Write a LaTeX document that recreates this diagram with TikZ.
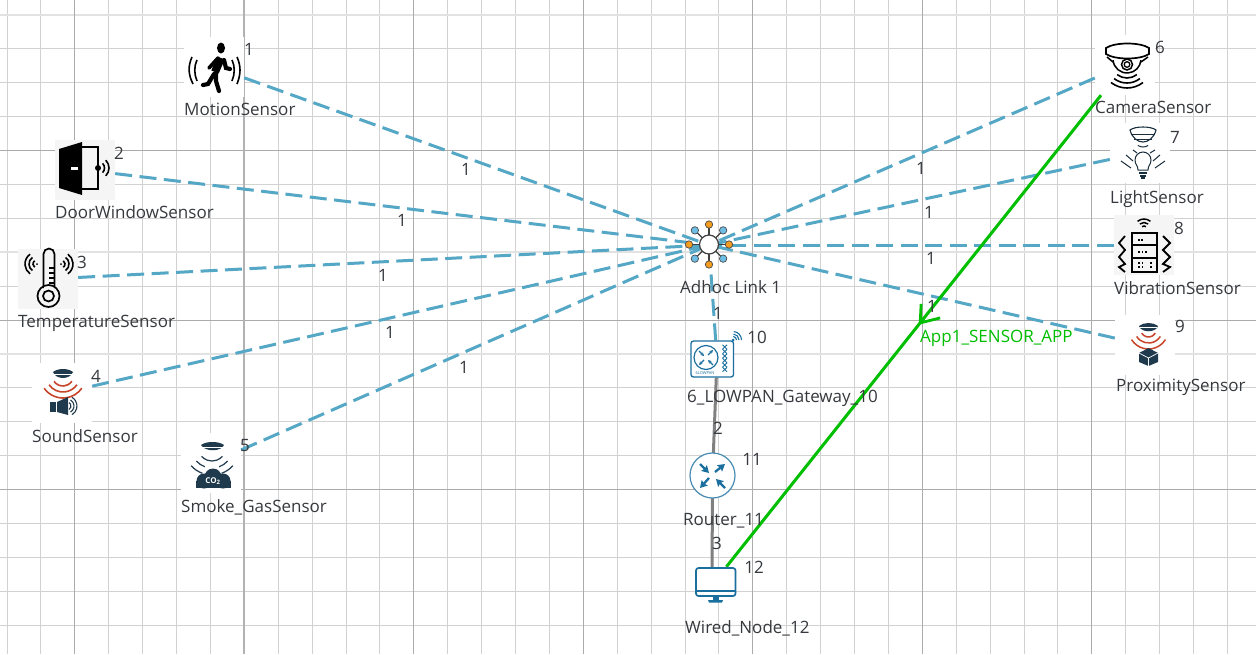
\documentclass[tikz,border=0pt]{standalone}
\usepackage{fontspec}
\setmainfont{Open Sans}
\usetikzlibrary{arrows.meta,calc}
\definecolor{linkblue}{HTML}{55A7C6}
\definecolor{gridminor}{HTML}{D2D2D2}
\definecolor{gridmajor}{HTML}{ABABAB}
\definecolor{gridthick}{HTML}{E2E2E2}
\definecolor{txt}{HTML}{36393D}
\definecolor{navy}{HTML}{1E3A4C}
\definecolor{redw}{HTML}{C8452A}
\definecolor{ciscob}{HTML}{1A6F9F}
\definecolor{appgreen}{HTML}{00BE00}
\definecolor{hubor}{HTML}{F39C1F}
\definecolor{hubbl}{HTML}{6DBDE5}
\newcommand{\icarc}[5]{([shift={(#4:#3pt)}]#1,#2) arc[start angle=#4,end angle=#5,radius=#3pt]}
\tikzset{
  iconbox/.style={rectangle,draw=none,fill=white,minimum width=60pt,minimum height=60pt,inner sep=0pt},
  checkbox/.style={iconbox,fill=black!4},
  wireless/.style={draw=linkblue,line width=3pt,dash pattern=on 17pt off 7.5pt},
  wiredlink/.style={draw=black!50,line width=3pt},
  namelab/.style={anchor=west,inner sep=0pt,text=txt,font=\fontsize{17}{19}\selectfont},
  numlab/.style={anchor=center,inner sep=0pt,text=txt,font=\fontsize{17}{19}\selectfont},
  applab/.style={anchor=west,inner sep=0pt,text=appgreen,font=\fontsize{17}{19}\selectfont},
}
\begin{document}
\begin{tikzpicture}[x=1pt,y=-1pt]
\useasboundingbox (0,0) rectangle (1256,654);
\fill[white] (0,0) rectangle (1256,654);
% grid
\foreach \k in {0,...,36}{\draw[gridminor,line width=0.9pt] ({7+33.9*\k},0) -- ({7+33.9*\k},654);}
\foreach \k in {0,...,18}{\draw[gridminor,line width=0.9pt] (0,{15+33.9*\k}) -- (1256,{15+33.9*\k});}
\foreach \k in {0,7,10}{\draw[gridthick,line width=1.8pt] (0,{15+33.9*\k}) -- (1256,{15+33.9*\k});}
\foreach \k in {4,9,14}{\draw[gridmajor,line width=0.9pt] (0,{15+33.9*\k}) -- (1256,{15+33.9*\k});}
\foreach \k in {2,12,17,22,27,32}{\draw[gridmajor,line width=0.9pt] ({7+33.9*\k},0) -- ({7+33.9*\k},654);}
\draw[black!30,line width=1.6pt] (244,0) -- (244,654);
% nodes
\node[iconbox] (motion) at (214,67) {};
\node[checkbox] (door) at (85,170) {};
\node[checkbox] (temp) at (48,279) {};
\node[iconbox] (sound) at (62,393) {};
\node[iconbox] (smoke) at (211,463) {};
\node[iconbox] (camera) at (1125,65) {};
\node[iconbox] (light) at (1140,153) {};
\node[checkbox] (vib) at (1144,245) {};
\node[iconbox] (prox) at (1145,345) {};
\node[circle,draw=none,inner sep=0pt,minimum size=18pt] (adhoc) at (709,245) {};
\node[rectangle,draw=none,inner sep=0pt,minimum width=46pt,minimum height=37pt] (gw) at (717,359) {};
\node[circle,draw=none,inner sep=0pt,minimum size=45pt] (router) at (712.5,475.5) {};
\node[rectangle,draw=none,inner sep=0pt,minimum width=41pt,minimum height=36pt] (wired) at (712,585) {};
% links
\foreach \n in {motion,door,temp,sound,smoke,camera,light,vib,prox}{\draw[wireless] (\n) -- (adhoc);}
\draw[wireless,shorten >=15pt] (gw) -- (adhoc);
\draw[wiredlink] (gw) -- (router);
\draw[wiredlink] (router) -- (wired);
% application flow
\draw[appgreen,line width=3pt] (wired) -- (camera);
\coordinate (tip) at ($(wired.center)!0.504!(camera.center)$);
\draw[appgreen,line width=2.8pt,line join=miter] ($(tip)+(1,-19)$) -- (tip) -- ($(tip)+(20,-5)$);
% motion icon
\fill[black] (221,48) ellipse[x radius=4pt,y radius=5.5pt];
\draw[black,line width=8pt] (221,58) -- (215,72);
\draw[black,line width=3.6pt,line cap=round] (218,58) -- (209,68);
\draw[black,line width=4.2pt,line cap=round] (224,60) -- (226,68) -- (230,69);
\draw[black,line width=4.2pt,line cap=round] (214,74) -- (208,84) -- (203,85);
\draw[black,line width=4.2pt,line cap=round] (216,74) -- (216,81) -- (219,91);
\draw[black,line width=1.6pt] (192,57) .. controls (188,66) and (188,74) .. (193,84);
\draw[black,line width=1.6pt] (197,60) .. controls (194,66) and (194,74) .. (197,81);
\draw[black,line width=1.6pt] (237,57) .. controls (241,66) and (241,74) .. (237,84);
\draw[black,line width=1.6pt] (232,60) .. controls (235,66) and (235,74) .. (232,81);
% door icon
\draw[black,line width=1.6pt] (82,147) -- (98,147) -- (98,189) -- (82,189);
\fill[black] (59,149) -- (82,142) -- (82,195) -- (59,188) -- cycle;
\fill[white] (71,167) rectangle (78,170);
\fill[black] (98,168) circle[radius=3pt];
\draw[black,line width=1.6pt] \icarc{98}{168}{6.5}{-45}{45};
\draw[black,line width=1.6pt] \icarc{98}{168}{11}{-45}{45};
% temperature icon
\draw[black,line width=1.7pt] (43.5,288) -- (43.5,254) arc[start angle=180,end angle=0,radius=5.5pt] -- (54.5,288);
\fill[black!4] (44.4,286) rectangle (53.6,292);
\draw[black,line width=1.7pt] (48.5,296) circle[radius=11pt];
\draw[black,line width=1.7pt] (48.5,296) circle[radius=5.5pt];
\draw[black,line width=1.2pt] (49,268) -- (54,268) (49,273) -- (54,273) (49,278) -- (54,278) (49,283) -- (54,283);
\fill[black] (37,264) circle[radius=1pt];
\fill[black] (61,264) circle[radius=1pt];
\foreach \r in {4,8,12}{
  \draw[black,line width=1.6pt] \icarc{37}{264}{\r}{125}{235};
  \draw[black,line width=1.6pt] \icarc{61}{264}{\r}{-55}{55};
}
% sound icon
\fill[navy] (53,372) .. controls (58,368) and (68,368) .. (73,372) .. controls (70,380) and (56,380) .. (53,372) -- cycle;
\draw[white,line width=0.6pt] (54,374) -- (72,374);
\foreach \r in {11,17,23}{\draw[redw,line width=1.6pt] \icarc{63}{375}{\r}{215}{325};}
\fill[navy] (50,402) rectangle (56,412);
\fill[navy] (57,402) -- (68,397) -- (68,415) -- (57,412) -- cycle;
\foreach \r in {4,7,10}{\draw[navy,line width=1.1pt] \icarc{67}{406}{\r}{-60}{60};}
% smoke icon
\fill[navy] (201,445) .. controls (206,441) and (219,441) .. (224,445) .. controls (221,452) and (205,452) .. (201,445) -- cycle;
\draw[white,line width=0.6pt] (202,447) -- (223,447);
\foreach \r in {14,21,28}{
  \draw[navy,line width=1.2pt] \icarc{212}{447}{\r}{222}{250};
  \draw[navy,line width=1.2pt] \icarc{212}{447}{\r}{290}{318};
}
\draw[navy,line width=1.2pt] \icarc{212}{447}{14}{250}{290};
\fill[navy] (204,481) circle[radius=7.5pt];
\fill[navy] (213,477) circle[radius=8.5pt];
\fill[navy] (223,481) circle[radius=7.5pt];
\fill[navy] (196,488) rectangle (231,481);
\node[inner sep=0pt,text=white,font=\bfseries\fontsize{8}{9}\selectfont] (co2) at (213,481) {CO\textsubscript{2}};
% camera icon
\draw[black,line width=1.7pt] (1106,48) .. controls (1115,42) and (1140,42) .. (1149,48) -- (1149,54) .. controls (1140,60) and (1115,60) .. (1106,54) -- cycle;
\draw[black,line width=1.5pt] (1107,57) -- (1113,62);
\draw[black,line width=1.5pt] (1148,57) -- (1141,62);
\draw[black,line width=1.5pt] \icarc{1127}{59}{14}{185}{355};
\draw[black,line width=1.5pt] (1127,64.5) circle[radius=5.5pt];
\draw[black,line width=1.3pt] (1127,64.5) circle[radius=2.8pt];
\foreach \r in {16,21,26}{\draw[black,line width=1.6pt] \icarc{1127}{62}{\r}{232}{308};}
% light icon
\draw[navy!80!black,line width=1.1pt] (1130,130) .. controls (1135,126) and (1151,126) .. (1156,130) .. controls (1154,138) and (1148,142) .. (1143,142) .. controls (1138,142) and (1132,138) .. (1130,130) -- cycle;
\draw[navy!80!black,line width=1pt] (1131,134) -- (1155,134) (1134,139) -- (1152,139);
\draw[navy!80!black,line width=1pt] \icarc{1143}{138}{9}{235}{305};
\draw[navy!80!black,line width=1pt] (1138,170) .. controls (1138,165) and (1135,165) .. (1135,160) arc[start angle=180,end angle=0,radius=8pt] .. controls (1151,165) and (1148,165) .. (1148,170) -- cycle;
\draw[navy!80!black,line width=1.1pt] (1139,173) -- (1147,173) (1140,176) -- (1146,176);
\fill[navy!80!black] (1141,177) rectangle (1145,179);
\draw[navy!80!black,line width=1pt] (1126,155) -- (1133,161) (1121,161) -- (1131,168) (1160,155) -- (1153,161) (1165,161) -- (1155,168) (1133,150) -- (1137,153) (1155,150) -- (1150,153);
% vibration icon
\draw[black,line width=1.7pt] (1132,233) rectangle (1157,272);
\draw[black,line width=1.7pt] (1132,245) -- (1157,245) (1132,258) -- (1157,258);
\foreach \px/\py in {1138/239,1141/239,1138/251,1141.5/251,1145/251,1138/262,1141.5/262,1150/262,1138/266,1141.5/266,1150/266}{
  \fill[black] (\px,\py) rectangle ++(1.5,1.5);
}
\foreach \r in {3,6.5,10}{\draw[black,line width=1.5pt] \icarc{1144}{229}{\r}{50}{130};}
\draw[black,line width=1.8pt] (1125,236) -- (1119,243) -- (1125,250) -- (1119,257) -- (1125,264) -- (1119,267) -- (1125,272);
\draw[black,line width=1.8pt] (1163,236) -- (1170,243) -- (1163,250) -- (1170,257) -- (1163,264) -- (1170,267) -- (1163,272);
% proximity icon
\fill[navy] (1139,326) .. controls (1144,322) and (1153,322) .. (1158,326) .. controls (1156,333) and (1141,333) .. (1139,326) -- cycle;
\draw[white,line width=0.6pt] (1140,327.5) -- (1157,327.5);
\foreach \r in {8,14,20}{\draw[redw,line width=1.5pt] \icarc{1148.5}{329}{\r}{212}{328};}
\fill[navy] (1148.5,348) -- (1158,353) -- (1158,362) -- (1148.5,366) -- (1139,362) -- (1139,353) -- cycle;
\draw[white,line width=0.7pt] (1139,353) -- (1148.5,358) -- (1158,353) (1148.5,358) -- (1148.5,366);
% adhoc hub
\foreach \a/\c in {0/hubor,45/hubbl,90/hubor,135/hubbl,180/hubor,225/hubbl,270/hubor,315/hubbl}{
  \draw[black!75,line width=1.3pt] (709,244.5) -- ++(\a:20pt);
  \filldraw[fill=\c,draw=black!70,line width=0.7pt] (709,244.5) ++(\a:20pt) circle[radius=3.7pt];
}
\filldraw[fill=white,draw=black!75,line width=1.2pt] (709,244.5) circle[radius=9.5pt];
% gateway icon
\filldraw[fill=white,draw=ciscob,line width=1.3pt,rounded corners=2.5pt] (691,341) rectangle (733.5,377);
\draw[ciscob,line width=1.2pt] (706,357.5) circle[radius=12pt];
\foreach \xa/\ya/\xb/\yb in {699/351/704/356, 708/355/713/350, 704/360/699/365, 713/365/708/360}{
  \draw[ciscob,line width=1.2pt,-{Stealth[length=3.5pt,width=3.5pt]}] (\xa,\ya) -- (\xb,\yb);
}
\foreach \y in {347,351.5,356,360.5,365,369.5}{
  \draw[ciscob,line width=1pt] (722.5,\y-2.2) -- (727,\y+2.2) (727,\y-2.2) -- (722.5,\y+2.2);
}
\node[inner sep=0pt,text=ciscob,font=\fontsize{4}{5}\selectfont] (lp) at (705,373) {6LOWPAN};
\fill[ciscob] (733,340) circle[radius=1.5pt];
\foreach \r in {3.5,6,8.5}{\draw[ciscob,line width=1.1pt] \icarc{733}{340}{\r}{0}{85};}
% router icon
\filldraw[fill=white,draw=ciscob!80,line width=1.2pt] (712.5,475.5) circle[radius=22.5pt];
\foreach \xa/\ya/\xb/\yb in {700/464/709/473, 715/472/725/464, 709/478/700/488, 725/488/716/479}{
  \draw[ciscob,line width=2.3pt,-{Stealth[length=7pt,width=8pt,inset=1pt]}] (\xa,\ya) -- (\xb,\yb);
}
% wired node icon
\filldraw[fill=white,draw=ciscob,line width=1.7pt,rounded corners=2.5pt] (696,568) rectangle (735.5,596);
\draw[ciscob,line width=1.5pt] (696,591) -- (735.5,591);
\fill[ciscob] (713,596) rectangle (718.5,600);
\fill[ciscob] (708,600) -- (723,600) -- (722,602.5) -- (709,602.5) -- cycle;
% names
\node[namelab] (lmotion) at (184,109) {MotionSensor};
\node[namelab] (ldoor) at (55,212) {DoorWindowSensor};
\node[namelab] (ltemp) at (18,323.5) {TemperatureSensor};
\node[namelab] (lsound) at (32,436) {SoundSensor};
\node[namelab] (lsmoke) at (181,507) {Smoke\_GasSensor};
\node[namelab] (lcamera) at (1095,107) {CameraSensor};
\node[namelab] (llight) at (1110,199.5) {LightSensor};
\node[namelab] (lvib) at (1114,288) {VibrationSensor};
\node[namelab] (lprox) at (1116,387.5) {ProximitySensor};
\node[namelab] (ladhoc) at (680,287) {Adhoc Link 1};
\node[namelab] (lgw) at (687,398.5) {6\_LOWPAN\_Gateway\_10};
\node[namelab] (lrouter) at (683,520.5) {Router\_11};
\node[namelab] (lwired) at (685,628) {Wired\_Node\_12};
\node[applab] (lapp) at (920,338) {App1\_SENSOR\_APP};
% device numbers
\node[numlab] (n1) at (249,49) {1};
\node[numlab] (n2) at (119,153) {2};
\node[numlab] (n3) at (82,262) {3};
\node[numlab] (n4) at (96,376) {4};
\node[numlab] (n5) at (245,446) {5};
\node[numlab] (n6) at (1160,47) {6};
\node[numlab] (n7) at (1175,137) {7};
\node[numlab] (n8) at (1179,228) {8};
\node[numlab] (n9) at (1180,326) {9};
\node[numlab] (n10) at (757,337) {10};
\node[numlab] (n11) at (752,459) {11};
\node[numlab] (n12) at (754,567) {12};
% link numbers
\node[numlab] (e1) at (466,169) {1};
\node[numlab] (e2) at (402,220) {1};
\node[numlab] (e3) at (383,275) {1};
\node[numlab] (e4) at (390,332) {1};
\node[numlab] (e5) at (464,367) {1};
\node[numlab] (e6) at (921,168) {1};
\node[numlab] (e7) at (929,212) {1};
\node[numlab] (e8) at (931,258) {1};
\node[numlab] (e9) at (932,306) {1};
\node[numlab] (e10) at (718,313) {1};
\node[numlab] (e11) at (718,428) {2};
\node[numlab] (e12) at (717,543) {3};
\end{tikzpicture}
\end{document}
